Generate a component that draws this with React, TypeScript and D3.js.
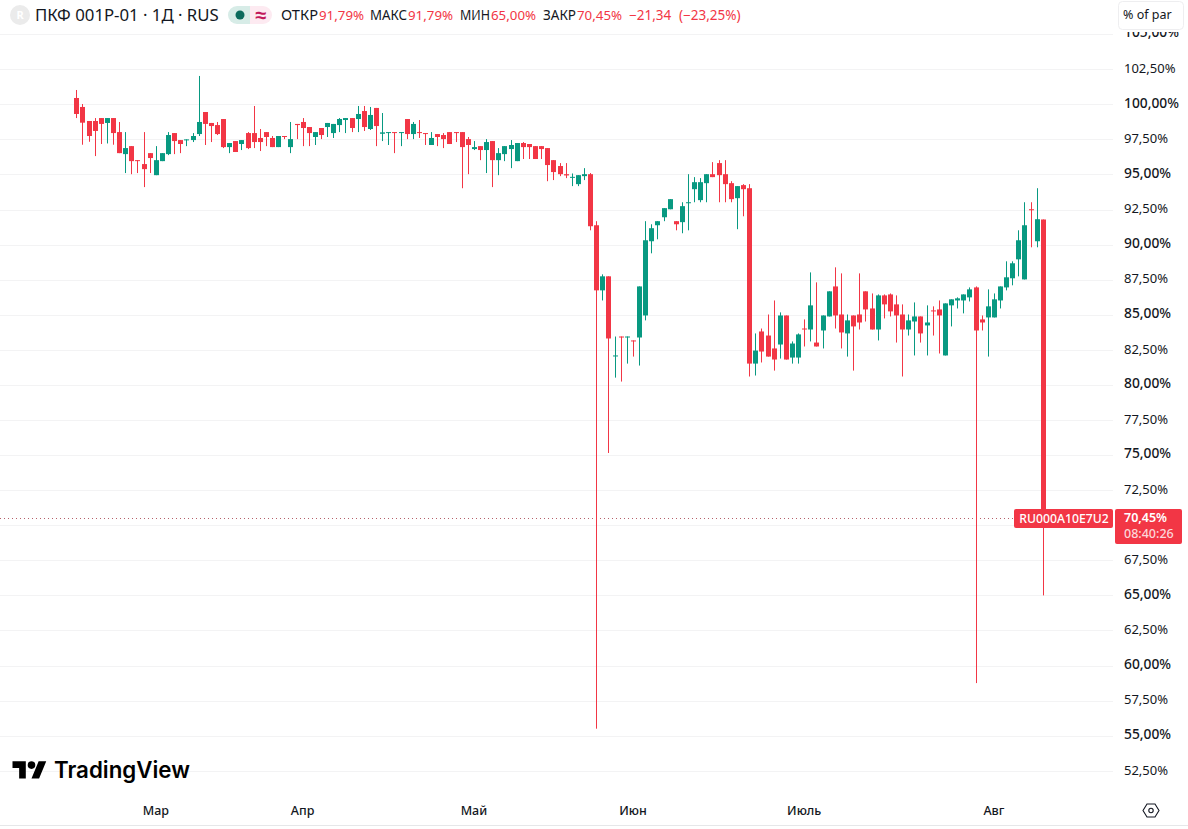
import * as d3 from 'd3'
import React, { useEffect, useRef } from 'react'

// Daily candles, % of par
const opens = [
  100.45, 99.81, 98.81, 98.81, 99.02, 98.67, 99.02, 98.02, 96.45, 97.02,
  96.02, 95.74, 96.52, 94.95, 95.95, 96.45, 97.95, 97.45, 97.45, 97.45,
  97.88, 99.45, 98.67, 98.52, 98.95, 96.95, 97.38, 97.17, 97.95, 97.95,
  97.6, 98.02, 97.6, 96.95, 97.74, 96.95, 98.6, 98.74, 98.38, 97.67,
  98.31, 98.38, 97.95, 98.52, 98.88, 99.02, 98.95, 99.52, 98.24, 99.74,
  97.9, 97.98, 98.02, 97.98, 98.95, 97.88, 98.02, 97.95, 97.1, 97.88,
  97.81, 98.02, 98.02, 98.02, 97.52, 96.81, 97.02, 96.74, 97.38, 96.02,
  96.45, 96.81, 95.95, 97.24, 97.17, 97.02, 97.02, 96.88, 96.02, 95.6,
  95.02, 94.76, 94.31, 94.88, 95.02, 91.38, 86.74, 87.74, 82.05, 83.45,
  83.38, 83.17, 83.38, 84.95, 90.24, 91.38, 91.95, 92.52, 91.67, 91.6,
  92.95, 93.95, 93.17, 94.38, 95.02, 95.81, 95.02, 94.38, 93.31, 94.24,
  94.02, 81.52, 83.81, 83.52, 82.6, 82.88, 84.95, 81.95, 81.95, 84.02,
  83.95, 83.02, 83.88, 84.88, 87.02, 85.02, 83.67, 84.95, 85.02, 86.67,
  85.45, 83.95, 86.38, 86.45, 85.74, 85.02, 83.95, 84.52, 84.88, 84.24,
  85.31, 85.38, 82.1, 85.67, 86.02, 86.02, 86.24, 86.95, 84.67, 84.81,
  84.81, 86.02, 86.95, 87.6, 88.95, 87.52, 92.52, 90.24, 91.79,
]
const closes = [
  99.31, 98.69, 97.74, 98.1, 98.6, 99.02, 97.95, 96.52, 96.88, 95.95,
  95.98, 95.38, 96.17, 96.02, 96.52, 97.81, 97.38, 97.17, 97.5, 97.74,
  98.74, 98.6, 98.45, 97.88, 96.95, 97.24, 96.6, 97.45, 96.88, 97.31,
  97.31, 97.67, 96.95, 97.74, 97.67, 97.52, 98.52, 98.31, 97.95, 98.02,
  97.81, 98.67, 98.6, 98.95, 99.02, 98.31, 99.31, 98.38, 99.24, 98.45,
  98.0, 98.02, 97.95, 98.02, 97.88, 98.6, 97.95, 97.9, 97.6, 97.67,
  97.52, 97.17, 97.95, 96.95, 97.1, 96.95, 96.74, 97.31, 96.02, 96.52,
  97.02, 97.1, 97.24, 96.95, 96.95, 96.1, 96.81, 95.67, 95.17, 95.02,
  94.93, 94.83, 94.95, 95.02, 91.31, 86.74, 87.74, 83.31, 82.1, 83.38,
  83.45, 83.1, 87.02, 90.31, 91.17, 91.67, 92.6, 93.24, 91.45, 92.74,
  93.02, 94.45, 94.45, 95.02, 94.81, 94.95, 94.31, 93.24, 94.17, 93.95,
  81.52, 82.45, 82.38, 82.02, 81.81, 84.95, 81.81, 82.95, 83.6, 83.95,
  85.67, 82.74, 84.95, 86.67, 84.95, 83.74, 84.6, 84.17, 84.45, 85.38,
  83.95, 86.38, 85.74, 85.24, 84.95, 83.95, 84.6, 84.88, 83.67, 84.45,
  85.24, 84.95, 85.81, 86.1, 86.17, 86.45, 86.81, 83.88, 84.45, 85.6,
  86.1, 87.02, 87.67, 88.67, 90.31, 91.38, 92.45, 91.81, 70.45,
]
const highs = [
  101.02, 100.02, 98.81, 99.02, 99.02, 99.02, 99.02, 98.74, 98.02, 97.02,
  96.02, 98.02, 96.52, 97.02, 96.52, 98.02, 97.95, 97.45, 97.5, 97.95,
  102.02, 99.45, 98.67, 98.74, 98.95, 97.24, 97.38, 97.45, 98.02, 99.88,
  98.24, 98.02, 97.74, 97.74, 97.74, 98.74, 98.6, 99.02, 98.38, 98.02,
  98.31, 98.67, 98.6, 99.02, 99.02, 99.02, 99.88, 99.88, 99.81, 99.74,
  99.38, 98.02, 98.02, 98.02, 98.95, 98.74, 98.88, 97.95, 98.02, 97.88,
  97.95, 98.02, 98.02, 98.02, 97.67, 97.38, 97.02, 97.52, 97.38, 96.88,
  97.02, 97.45, 97.24, 97.31, 97.17, 97.02, 97.02, 96.88, 96.02, 95.81,
  95.81, 95.07, 94.95, 95.45, 95.1, 91.67, 87.88, 87.74, 83.45, 83.45,
  83.45, 83.17, 87.02, 91.67, 91.45, 91.67, 92.6, 93.24, 91.67, 93.02,
  95.02, 94.81, 94.74, 95.02, 95.88, 96.02, 96.02, 94.52, 94.17, 94.31,
  94.31, 83.67, 84.02, 85.02, 86.02, 85.17, 84.95, 83.1, 83.67, 84.67,
  88.02, 87.31, 84.95, 86.67, 88.38, 87.95, 85.02, 84.95, 87.95, 86.67,
  86.52, 86.45, 86.45, 86.52, 86.38, 85.74, 85.02, 85.88, 84.88, 85.67,
  85.6, 86.02, 85.81, 86.1, 86.24, 86.45, 86.95, 87.02, 84.95, 86.81,
  86.52, 87.02, 88.81, 88.81, 91.02, 93.02, 93.02, 94.02, 91.79,
]
const lows = [
  99.02, 97.12, 97.33, 96.31, 97.17, 97.21, 97.12, 96.52, 95.1, 95.02,
  95.1, 94.1, 95.1, 94.95, 95.95, 96.38, 96.45, 96.52, 97.02, 97.31,
  97.74, 97.1, 97.31, 97.81, 96.88, 96.52, 96.6, 96.74, 96.81, 96.88,
  96.67, 97.02, 96.95, 96.95, 97.52, 96.52, 97.52, 97.02, 97.02, 97.1,
  97.52, 97.67, 97.6, 98.02, 97.95, 98.02, 98.02, 98.1, 98.17, 97.02,
  97.38, 97.1, 96.52, 97.02, 97.52, 97.52, 97.6, 97.1, 97.1, 97.02,
  96.88, 97.17, 97.31, 94.02, 95.02, 96.74, 96.02, 95.1, 94.1, 94.95,
  95.95, 95.45, 95.95, 96.1, 96.1, 96.1, 96.1, 94.52, 94.6, 94.88,
  94.74, 94.17, 94.17, 94.6, 91.02, 55.5, 86.02, 75.15, 80.52, 80.24,
  81.52, 82.02, 81.38, 84.6, 89.38, 90.38, 91.67, 92.52, 91.02, 90.81,
  91.02, 93.02, 93.02, 93.02, 94.81, 93.02, 93.02, 93.02, 91.1, 92.02,
  80.6, 80.67, 81.6, 82.02, 81.02, 81.88, 81.81, 81.52, 81.52, 82.74,
  83.1, 82.74, 82.6, 84.88, 84.02, 82.6, 82.02, 81.02, 83.95, 84.52,
  83.95, 83.17, 84.74, 84.88, 83.02, 80.6, 83.52, 82.1, 83.02, 82.1,
  83.52, 82.24, 82.1, 84.17, 85.45, 85.1, 85.95, 58.75, 83.88, 82.02,
  84.81, 85.45, 86.74, 87.1, 87.74, 87.52, 89.81, 89.81, 65,
]

const priceTicks = [
  105, 102.5, 100, 97.5, 95, 92.5, 90, 87.5, 85, 82.5, 80,
  77.5, 75, 72.5, 67.5, 65, 62.5, 60, 57.5, 55, 52.5,
]
const gridTicks = [...priceTicks, 70]
const monthLabels = ['Мар', 'Апр', 'Май', 'Июн', 'Июль', 'Авг']
const monthIndex = [13, 37, 65, 91, 119, 150]

const lastClose = 70.45
const countdown = '08:40:26'
const symbolCode = 'RU000A10E7U2'
const legendNames = ['ОТКР', 'МАКС', 'МИН', 'ЗАКР']
const legendValues = ['91,79%', '91,79%', '65,00%', '70,45%']
const legendNameX = [281, 370, 460, 543]
const legendNameWidth = [37, 37, 30, 33]
const legendValueX = [319, 408, 491, 577]
const changeText = '−21,34'
const changePctText = '(−23,25%)'

const UP = '#089981'
const DOWN = '#f23645'
const GRID = '#f3f3f4'
const TEXT = '#131722'
const FONT = '"Noto Sans", sans-serif'

const width = 1188
const height = 829

const fmt = (v: number) => v.toFixed(2).replace('.', ',') + '%'

const App = () => {
  const svgRef = useRef<any>(null)

  useEffect(() => {
    if (!svgRef.current) return
    const svg = d3.select(svgRef.current)
    svg.selectAll('*').remove()

    const x = d3.scaleLinear().domain([0, opens.length - 1]).range([76.3, 1042.8])
    const y = d3.scaleLinear().domain([100, 55]).range([104.3, 735.7])

    svg.append('rect').attr('width', width).attr('height', height).attr('fill', '#fff')

    svg.append('defs').append('clipPath').attr('id', 'axis-clip')
      .append('rect').attr('x', 1114).attr('y', 32).attr('width', 74).attr('height', 760)

    // Grid
    svg.append('g').selectAll('line')
      .data(gridTicks.filter((d) => d < 105))
      .enter().append('line')
      .attr('x1', 0).attr('x2', 1113)
      .attr('y1', (d) => Math.round(y(d)) + 0.5)
      .attr('y2', (d) => Math.round(y(d)) + 0.5)
      .attr('stroke', GRID)

    // Header and footer separators
    svg.append('line').attr('x1', 0).attr('x2', 1113).attr('y1', 34.5).attr('y2', 34.5).attr('stroke', GRID)
    svg.append('line').attr('x1', 0).attr('x2', width).attr('y1', 825.5).attr('y2', 825.5).attr('stroke', '#e6e7e9')

    // Price line
    svg.append('line')
      .attr('x1', 0).attr('x2', 1014)
      .attr('y1', Math.round(y(lastClose)) - 0.5).attr('y2', Math.round(y(lastClose)) - 0.5)
      .attr('stroke', '#b5606a').attr('stroke-dasharray', '1 3')

    // Candles
    const candles = svg.append('g').selectAll('g')
      .data(d3.range(opens.length))
      .enter().append('g')
      .attr('fill', (i) => (closes[i] >= opens[i] ? UP : DOWN))

    candles.append('rect')
      .attr('x', (i) => Math.round(x(i)))
      .attr('width', 1)
      .attr('y', (i) => y(highs[i]))
      .attr('height', (i) => y(lows[i]) - y(highs[i]))

    candles.append('rect')
      .attr('x', (i) => Math.round(x(i)) - 2)
      .attr('width', 5)
      .attr('y', (i) => y(Math.max(opens[i], closes[i])))
      .attr('height', (i) => Math.max(1, Math.abs(y(opens[i]) - y(closes[i]))))

    // Price axis
    svg.append('g').attr('clip-path', 'url(#axis-clip)').selectAll('text')
      .data(priceTicks)
      .enter().append('text')
      .attr('x', 1124)
      .attr('y', (d) => y(d) - (d % 5 === 0 ? 1.6 : 0.8))
      .attr('dy', '0.35em')
      .attr('font-family', FONT)
      .attr('font-size', (d) => (d % 5 === 0 ? 13.8 : 13))
      .attr('font-weight', (d) => (d % 5 === 0 ? 500 : 400))
      .attr('fill', TEXT)
      .text(fmt)

    // Month axis
    svg.append('g').selectAll('text')
      .data(monthLabels)
      .enter().append('text')
      .attr('x', (d, i) => x(monthIndex[i]))
      .attr('y', 811)
      .attr('dy', '0.35em')
      .attr('text-anchor', 'middle')
      .attr('font-family', FONT)
      .attr('font-size', 12.5)
      .attr('font-weight', 500)
      .attr('fill', TEXT)
      .text((d) => d)

    // Settings icon
    const hex = d3.line()(
      [[1143, 810.5], [1147, 804], [1155, 804], [1159, 810.5], [1155, 817], [1147, 817]] as any
    )
    svg.append('path').attr('d', hex + 'Z').attr('fill', 'none').attr('stroke', TEXT).attr('stroke-width', 1.1)
    svg.append('circle').attr('cx', 1151).attr('cy', 810.5).attr('r', 2.2)
      .attr('fill', 'none').attr('stroke', TEXT).attr('stroke-width', 1.1)

    // Scale button
    svg.append('rect').attr('x', 1118.5).attr('y', 1.5).attr('width', 65).attr('height', 28).attr('rx', 4)
      .attr('fill', '#fff').attr('stroke', '#eeeef0')
    svg.append('text').attr('x', 1123).attr('y', 15).attr('dy', '0.35em')
      .attr('font-family', FONT).attr('font-size', 12.5).attr('fill', TEXT).text('% of par')

    // Last price labels
    const ly = 509
    svg.append('rect').attr('x', 1014).attr('y', ly).attr('width', 99).attr('height', 19).attr('rx', 2).attr('fill', DOWN)
    svg.append('text').attr('x', 1064).attr('y', ly + 10).attr('dy', '0.35em').attr('text-anchor', 'middle')
      .attr('font-family', FONT).attr('font-size', 12.2).attr('font-weight', 500).attr('fill', '#fff').text(symbolCode)
    svg.append('rect').attr('x', 1115).attr('y', ly).attr('width', 67).attr('height', 35).attr('rx', 2).attr('fill', DOWN)
    svg.append('text').attr('x', 1124).attr('y', ly + 9).attr('dy', '0.35em')
      .attr('font-family', FONT).attr('font-size', 12.5).attr('font-weight', 600).attr('fill', '#fff').text(fmt(lastClose))
    svg.append('text').attr('x', 1124).attr('y', ly + 25).attr('dy', '0.35em')
      .attr('font-family', FONT).attr('font-size', 12.5).attr('font-weight', 500).attr('fill', '#fcd7da').text(countdown)

    // Legend
    svg.append('circle').attr('cx', 20).attr('cy', 15).attr('r', 10).attr('fill', '#ebebeb')
    svg.append('text').attr('x', 20).attr('y', 15).attr('dy', '0.35em').attr('text-anchor', 'middle')
      .attr('font-family', FONT).attr('font-size', 11).attr('font-weight', 700).attr('fill', '#fff').text('R')
    svg.append('text').attr('x', 35).attr('y', 15).attr('dy', '0.35em')
      .attr('font-family', FONT).attr('font-size', 16.8).attr('fill', TEXT).text('ПКФ 001Р-01 · 1Д · RUS')

    svg.append('path').attr('d', 'M250 6H237a9 9 0 0 0 0 18H250Z').attr('fill', '#d7ece7')
    svg.append('path').attr('d', 'M250 6H263a9 9 0 0 1 0 18H250Z').attr('fill', '#fdeaf1')
    svg.append('circle').attr('cx', 240).attr('cy', 15).attr('r', 4.5).attr('fill', '#0b6b5c')
    svg.append('text').attr('x', 261).attr('y', 15).attr('dy', '0.35em').attr('text-anchor', 'middle')
      .attr('font-family', FONT).attr('font-size', 20).attr('font-weight', 700).attr('fill', '#c2185b').text('≈')

    legendNames.forEach((name, i) => {
      svg.append('text').attr('x', legendNameX[i]).attr('y', 15).attr('dy', '0.35em')
        .attr('font-family', FONT).attr('font-size', 13.5).attr('fill', TEXT)
        .attr('textLength', legendNameWidth[i]).attr('lengthAdjust', 'spacingAndGlyphs').text(name)
      svg.append('text').attr('x', legendValueX[i]).attr('y', 15).attr('dy', '0.35em')
        .attr('font-family', FONT).attr('font-size', 13.3).attr('fill', DOWN).text(legendValues[i])
    })
    svg.append('text').attr('x', 629).attr('y', 15).attr('dy', '0.35em')
      .attr('font-family', FONT).attr('font-size', 13.5).attr('fill', DOWN).text(changeText)
    svg.append('text').attr('x', 679).attr('y', 15).attr('dy', '0.35em')
      .attr('font-family', FONT).attr('font-size', 13.5).attr('fill', DOWN).text(changePctText)

    // Watermark
    const logo = svg.append('g').attr('transform', 'translate(12.5, 757.5) scale(0.95)').attr('fill', '#000')
    logo.append('path').attr('d', 'M14 22H7V11H0V4h14v18zM28 22h-8l7.5-18h8L28 22z')
    logo.append('circle').attr('cx', 20).attr('cy', 8).attr('r', 4)
    svg.append('text').attr('x', 54).attr('y', 778)
      .attr('font-family', '"Inter", sans-serif').attr('font-size', 22.3).attr('font-weight', 600)
      .attr('fill', '#000').text('TradingView')
  }, [])

  return (
    <svg
      ref={ svgRef }
      width={ width }
      height={ height }
      style={{ position: 'absolute', left: 0, top: 0 }}
    />
  )
}

export default App
